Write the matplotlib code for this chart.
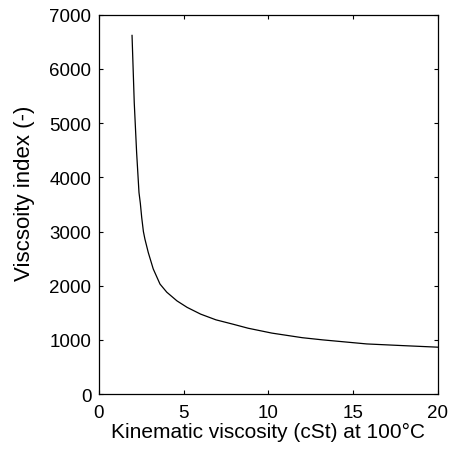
import numpy as np
import matplotlib
matplotlib.use("Agg")
import matplotlib.pyplot as plt

# kinematic viscosity at 100 C (cSt) vs viscosity index
kv100 = [1.95, 2.08, 2.22, 2.36, 2.44, 2.52, 2.62, 2.71, 2.91, 3.2, 3.6,
         4.0, 4.6, 5.2, 6.0, 6.9, 7.9, 8.8, 10.2, 12.0, 13.2, 15.8, 18.0, 20.0]
vi = [6620, 5380, 4460, 3720, 3520, 3260, 3000, 2860, 2610, 2310, 2030,
      1880, 1720, 1600, 1475, 1370, 1290, 1215, 1125, 1040, 1000, 925, 893, 865]

x_ticks = [0, 5, 10, 15, 20]
y_ticks = [0, 1000, 2000, 3000, 4000, 5000, 6000, 7000]

plt.rcParams["font.family"] = ["Liberation Sans", "DejaVu Sans"]

fig = plt.figure(figsize=(4.51, 4.52), dpi=100)
ax = fig.add_axes([0.2195, 0.126, 0.7515, 0.839])

ax.plot(kv100, vi, color="black", lw=0.9)

ax.set_xlim(0, 20)
ax.set_ylim(0, 7000)
ax.set_xticks(x_ticks)
ax.set_yticks(y_ticks)
ax.tick_params(direction="in", top=True, right=True, length=3, width=0.8,
               labelsize=13.5)
ax.tick_params(axis="x", pad=7)
ax.tick_params(axis="y", pad=5.5)
for s in ax.spines.values():
    s.set_linewidth(0.9)

ax.set_xlabel("Kinematic viscosity (cSt) at 100\u00b0C", fontsize=15, labelpad=1)
ax.set_ylabel("Viscsoity index (-)", fontsize=16)
# MATLAB puts the y label a bit above the axes centre
ax.yaxis.set_label_coords(-0.19, 0.532)

fig.savefig("out.png", dpi=100)
